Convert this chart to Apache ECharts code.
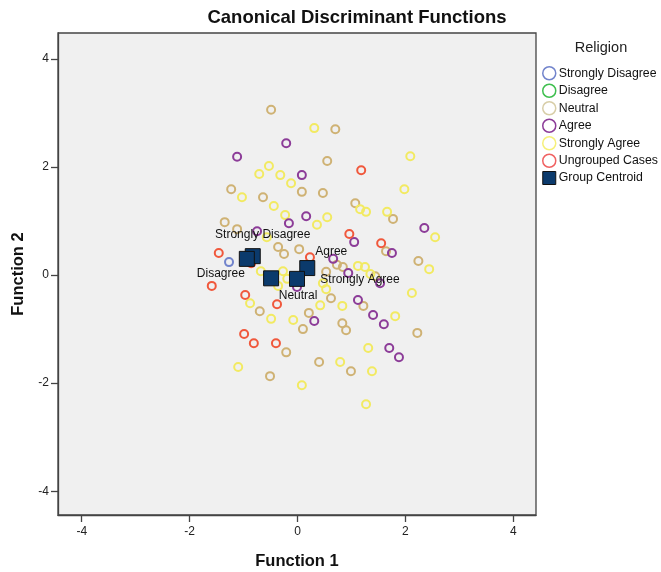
<!DOCTYPE html>
<html>
<head>
<meta charset="utf-8">
<script src="https://cdn.jsdelivr.net/npm/echarts@6/dist/echarts.min.js"></script>
<style>
html,body{margin:0;padding:0;background:#fff}
#chart{width:661px;height:572px}
</style>
</head>
<body>
<div id="chart"></div>
<script>
// Discriminant scores per case, [Function 1, Function 2]
const stronglyDisagree = [[-1.27, 0.24]];
const disagree = [];
const neutral = [
  [-0.49, 3.06], [0.70, 2.70], [0.55, 2.11], [-1.23, 1.59], [-0.64, 1.44], [0.08, 1.54],
  [0.47, 1.52], [1.07, 1.33], [1.77, 1.04], [-1.35, 0.98], [-1.12, 0.85], [-0.36, 0.52],
  [-0.25, 0.39], [0.03, 0.48], [1.64, 0.44], [2.24, 0.26], [0.73, 0.19], [0.84, 0.15],
  [0.53, 0.06], [1.44, -0.02], [0.62, -0.43], [1.22, -0.57], [-0.70, -0.67], [0.21, -0.70],
  [0.10, -1.00], [-0.21, -1.43], [0.40, -1.61], [0.83, -0.89], [0.90, -1.02], [2.22, -1.07],
  [0.99, -1.78], [-0.51, -1.87]
];
const agree = [
  [-0.21, 2.44], [-1.12, 2.19], [0.08, 1.85], [0.16, 1.09], [-0.16, 0.96], [-0.75, 0.81],
  [2.35, 0.87], [1.05, 0.61], [1.75, 0.41], [0.66, 0.30], [0.94, 0.04], [1.53, -0.15],
  [-0.01, -0.22], [1.12, -0.46], [0.31, -0.85], [1.40, -0.74], [1.60, -0.91], [1.70, -1.35],
  [1.88, -1.52]
];
const stronglyAgree = [
  [0.31, 2.72], [2.09, 2.20], [-0.53, 2.02], [-0.71, 1.87], [-0.32, 1.85], [-0.12, 1.70],
  [-1.03, 1.44], [1.98, 1.59], [1.16, 1.22], [1.27, 1.17], [1.66, 1.17], [-0.44, 1.28],
  [-0.23, 1.11], [0.36, 0.93], [0.55, 1.07], [-0.57, 0.70], [2.55, 0.70], [2.44, 0.11],
  [-0.68, 0.07], [-0.27, 0.07], [-0.19, -0.07], [-0.36, -0.20], [0.47, -0.15], [1.12, 0.17],
  [1.25, 0.15], [1.35, 0.02], [2.12, -0.33], [0.53, -0.26], [0.83, -0.57], [0.42, -0.56],
  [-0.88, -0.52], [-0.49, -0.81], [-0.08, -0.83], [1.81, -0.76], [-1.10, -1.70], [0.08, -2.04],
  [0.79, -1.61], [1.38, -1.78], [1.27, -2.39], [1.31, -1.35]
];
const ungrouped = [
  [1.18, 1.94], [0.96, 0.76], [1.55, 0.59], [-1.46, 0.41], [-0.86, 0.22], [0.23, 0.33],
  [-1.59, -0.20], [-0.97, -0.37], [-0.38, -0.54], [-0.99, -1.09], [-0.81, -1.26], [-0.40, -1.26]
];
const centroidNames = ['Strongly Disagree', 'Disagree', 'Neutral', 'Agree', 'Strongly Agree'];
const centroidF1 = [-0.83, -0.94, -0.49, 0.18, -0.01];
const centroidF2 = [0.35, 0.30, -0.06, 0.13, -0.07];
const tickValues = [-4, -2, 0, 2, 4];

// label placement around each centroid (pixels, relative to the marker centre)
const labelOffsets = [[10, -21], [-26, 15], [27, 17], [24, -16], [63, 1]];

const FONT = '"Liberation Sans", Arial, sans-serif';
const colors = {
  sd: '#7284cc', d: '#3fbf4f', n: '#cfb274', nLegend: '#d8cea8',
  a: '#8c3c98', sa: '#f2ea62', saLegend: '#f6f07a', u: '#f0583c', uLegend: '#f06262', c: '#0b3a6c'
};

function ring(name, data, color) {
  return {
    name: name, type: 'scatter', data: data, symbol: 'circle', symbolSize: 8,
    itemStyle: { color: 'rgba(0,0,0,0)', borderColor: color, borderWidth: 2, opacity: 1 },
    emphasis: { disabled: true }, z: 2
  };
}

const centroidData = centroidNames.map((name, i) => ({
  name: name,
  value: [centroidF1[i], centroidF2[i]]
}));

function legendRing(name, color) {
  return { name: name, icon: 'circle', itemStyle: { color: 'rgba(0,0,0,0)', borderColor: color, borderWidth: 1.5, opacity: 1 } };
}

const axisCommon = {
  axisLine: { show: true, onZero: false, lineStyle: { color: '#444', width: 1.3 } },
  axisTick: { show: true, length: 7, customValues: tickValues, lineStyle: { color: '#444', width: 1.3 } },
  splitLine: { show: false },
  nameLocation: 'middle',
  nameTextStyle: { fontSize: 16.5, fontWeight: 'bold', color: '#111', fontFamily: FONT }
};

const chart = echarts.init(document.getElementById('chart'), null, { renderer: 'canvas' });
chart.setOption({
  animation: false,
  backgroundColor: '#ffffff',
  textStyle: { fontFamily: FONT },
  grid: {
    left: 58, right: 125, top: 33, bottom: 57,
    outerBoundsMode: 'none', containLabel: false,
    show: true, backgroundColor: '#f0f0f0', borderColor: '#444', borderWidth: 1.3
  },
  graphic: [
    {
      type: 'text', x: 357, y: 8,
      style: { text: 'Canonical Discriminant Functions', font: 'bold 18.5px ' + FONT, fill: '#111', textAlign: 'center' }
    },
    {
      type: 'text', x: 601, y: 40,
      style: { text: 'Religion', font: '14.5px ' + FONT, fill: '#222', textAlign: 'center' }
    }
  ],
  legend: {
    orient: 'vertical', left: 542, top: 66, padding: 0,
    itemWidth: 13, itemHeight: 13, itemGap: 3,
    textStyle: { fontSize: 12.3, color: '#111', fontFamily: FONT, padding: [0, 0, 0, -2] },
    selectedMode: false,
    data: [
      legendRing('Strongly Disagree', colors.sd),
      legendRing('Disagree', colors.d),
      legendRing('Neutral', colors.nLegend),
      legendRing('Agree', colors.a),
      legendRing('Strongly Agree', colors.saLegend),
      legendRing('Ungrouped Cases', colors.uLegend),
      { name: 'Group Centroid', icon: 'rect', itemStyle: { color: colors.c, borderColor: '#111', borderWidth: 1, opacity: 1 } }
    ]
  },
  xAxis: Object.assign({}, axisCommon, {
    type: 'value', min: -4.44, max: 4.42,
    name: 'Function 1', nameGap: 38,
    axisLabel: { customValues: tickValues, margin: 11, fontSize: 12, color: '#222', fontFamily: FONT }
  }),
  yAxis: Object.assign({}, axisCommon, {
    type: 'value', min: -4.44, max: 4.48,
    name: 'Function 2', nameGap: 31, nameRotate: 90,
    axisLabel: { customValues: tickValues, margin: 9, fontSize: 12, color: '#222', fontFamily: FONT }
  }),
  series: [
    ring('Neutral', neutral, colors.n),
    ring('Strongly Agree', stronglyAgree, colors.sa),
    ring('Agree', agree, colors.a),
    ring('Ungrouped Cases', ungrouped, colors.u),
    ring('Strongly Disagree', stronglyDisagree, colors.sd),
    ring('Disagree', disagree, colors.d),
    {
      name: 'Group Centroid', type: 'scatter', data: centroidData,
      symbol: 'rect', symbolSize: 15, z: 5,
      itemStyle: { color: colors.c, borderColor: '#111', borderWidth: 1, opacity: 1 },
      emphasis: { disabled: true },
      label: {
        show: true, position: 'inside', formatter: p => p.name,
        fontSize: 12, color: '#111', fontFamily: FONT, align: 'center', verticalAlign: 'middle'
      },
      labelLayout: p => ({ dx: labelOffsets[p.dataIndex][0], dy: labelOffsets[p.dataIndex][1], hideOverlap: false })
    }
  ]
});
</script>
</body>
</html>
